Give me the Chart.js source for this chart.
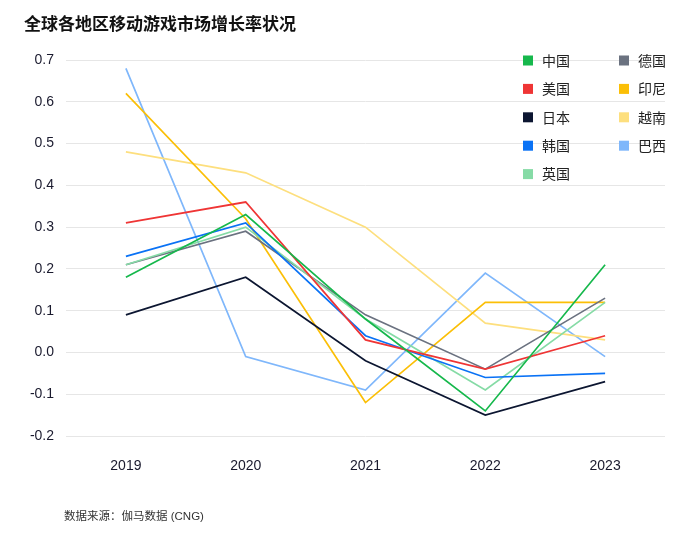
<!DOCTYPE html>
<html>
<head>
<meta charset="utf-8">
<script src="https://cdn.jsdelivr.net/npm/chart.js@4"></script>
<style>
  body { margin: 0; background: #fff; }
  #wrap { position: relative; width: 694px; height: 547px; }
  #c { position: absolute; left: 0; top: 0; }
  .titulo { position: absolute; left: 24px; top: 10px; font: bold 17px "Noto Sans CJK SC", sans-serif; color: #111; }
  .fonte { position: absolute; left: 64px; top: 507px; font: 11.5px "Liberation Sans", "Noto Sans CJK SC", sans-serif; color: #333; }
</style>
</head>
<body>
<div id="wrap">
  <canvas id="c" width="694" height="547"></canvas>
  <div class="titulo">全球各地区移动游戏市场增长率状况</div>
  <div class="fonte">数据来源：伽马数据 (CNG)</div>
</div>
<script>
// dados
const anos = ['2019', '2020', '2021', '2022', '2023'];
const paises = ['中国', '美国', '日本', '韩国', '英国', '德国', '印尼', '越南', '巴西'];
const cores = ['#16b84c', '#ef3535', '#0c1631', '#0a72f5', '#86dba6', '#6b7280', '#fbbf07', '#fddf7e', '#7fb7fb'];
const china    = [0.18, 0.33, 0.08, -0.14, 0.21];
const eua      = [0.31, 0.36, 0.03, -0.04, 0.04];
const japao    = [0.09, 0.18, -0.02, -0.15, -0.07];
const coreia   = [0.23, 0.31, 0.04, -0.06, -0.05];
const reino    = [0.21, 0.30, 0.08, -0.09, 0.12];
const alemanha = [0.21, 0.29, 0.09, -0.04, 0.13];
const indonesia = [0.62, 0.32, -0.12, 0.12, 0.12];
const vietna   = [0.48, 0.43, 0.30, 0.07, 0.03];
const brasil   = [0.68, -0.01, -0.09, 0.19, -0.01];
const series = [china, eua, japao, coreia, reino, alemanha, indonesia, vietna, brasil];

// legenda em duas colunas (5 linhas)
const legendaPlugin = {
    id: 'legenda',
    afterDraw(chart) {
        const ctx = chart.ctx;
        ctx.save();
        ctx.font = '14px "Noto Sans CJK SC", sans-serif';
        ctx.textBaseline = 'middle';
        chart.data.datasets.forEach((ds, i) => {
            const col = Math.floor(i / 5), row = i % 5;
            const x = 523 + col * 96, y = 60.5 + row * 28.4;
            ctx.fillStyle = ds.borderColor;
            ctx.fillRect(x, y - 5, 10, 10);
            ctx.fillStyle = '#222';
            ctx.fillText(ds.label, x + 19, y);
        });
        ctx.restore();
    }
};

new Chart(document.getElementById('c'), {
    type: 'line',
    data: {
        labels: anos,
        datasets: paises.map((p, i) => ({
            label: p,
            data: series[i],
            borderColor: cores[i],
            backgroundColor: cores[i],
            borderWidth: 1.7,
            pointRadius: 0,
            tension: 0
        }))
    },
    options: {
        responsive: false,
        animation: false,
        layout: { padding: { top: 60, right: 29, bottom: 0, left: 0 } },
        plugins: {
            legend: { display: false },
            tooltip: { enabled: false }
        },
        scales: {
            x: {
                offset: true,
                grid: { display: false },
                border: { display: false },
                ticks: { color: '#1a1a2e', font: { family: 'Liberation Sans', size: 14 }, padding: 14 },
                afterFit(s) { s.height = 111; }
            },
            y: {
                min: -0.2,
                max: 0.7,
                grid: { color: '#e6e6e6', drawTicks: false },
                border: { display: false },
                ticks: {
                    stepSize: 0.1,
                    color: '#1a1a2e',
                    font: { family: 'Liberation Sans', size: 14 },
                    padding: 12,
                    callback: v => (Math.abs(v) < 1e-9 ? 0 : v).toFixed(1)
                },
                afterFit(s) { s.width = 66; }
            }
        }
    },
    plugins: [legendaPlugin]
});
</script>
</body>
</html>
